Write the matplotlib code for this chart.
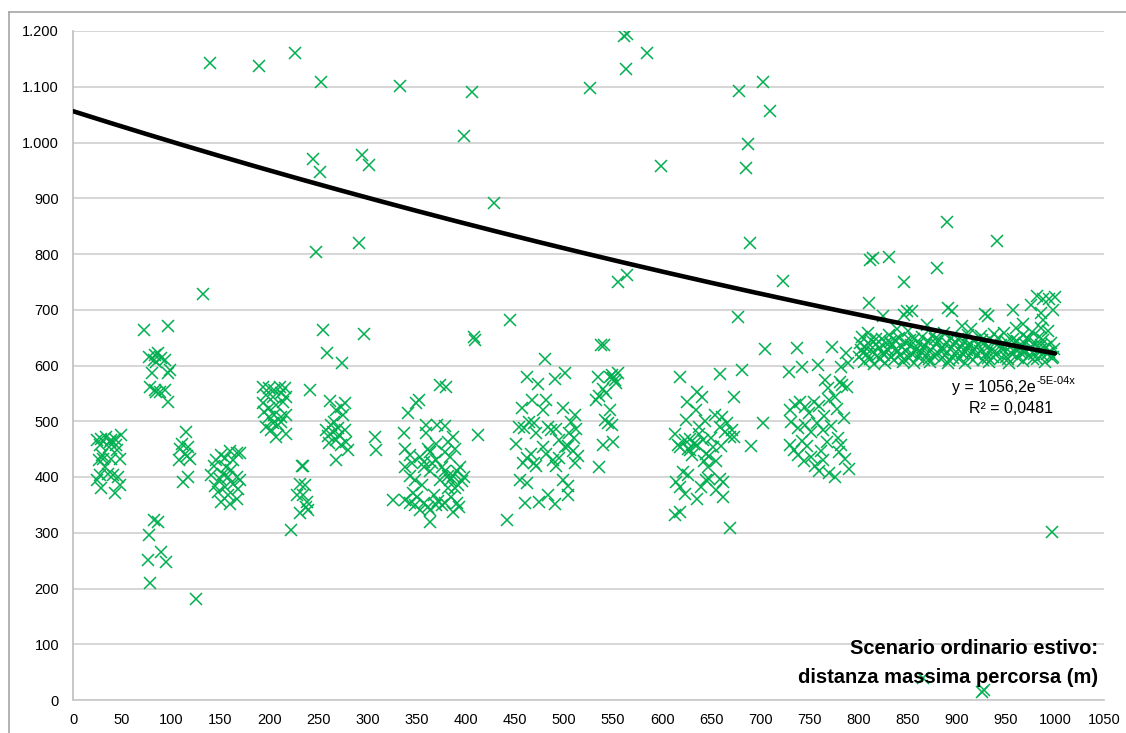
import numpy as np
import matplotlib
matplotlib.use("Agg")
import matplotlib.pyplot as plt
from matplotlib.lines import Line2D
from matplotlib.ticker import FuncFormatter, MultipleLocator

plt.rcParams['font.family'] = ['Liberation Sans', 'DejaVu Sans']

# --- distance (x) vs value (y), grouped by cluster ---
grp_a_x = [24, 29, 34, 39, 44, 49, 27, 37, 43, 31, 26, 39, 48, 27, 36, 41, 46, 24, 29, 43, 48, 33, 38, 45, 30]
grp_a_y = [466, 469, 472, 466, 457, 475, 457, 454, 469, 433, 430, 433, 432, 403, 406, 403, 400, 394, 380, 371, 385, 418, 462, 448, 440]

grp_b_x = [77, 84, 87, 90, 94, 85, 80, 99, 97, 78, 84, 89, 94, 97, 85, 82,
           82, 87, 77, 76, 78, 90, 95, 125]
grp_b_y = [616, 619, 622, 613, 610, 607, 586, 592, 586, 562, 556, 553, 556, 535, 553, 610,
           323, 320, 296, 251, 210, 266, 248, 182]

grp_c_x = [115, 111, 117, 109, 114, 119, 108, 117, 112, 116]
grp_c_y = [481, 460, 454, 451, 442, 433, 430, 400, 391, 437]

grp_d_x = [141, 145, 146, 151, 155, 160, 167, 150, 153, 156, 161, 167, 170, 148, 151,
           158, 160, 167, 155, 163, 168, 144, 158, 163, 170]
grp_d_y = [404, 383, 431, 440, 434, 446, 443, 397, 406, 418, 412, 400, 394, 373, 355,
           367, 352, 361, 382, 388, 379, 419, 400, 431, 443]

grp_e_x = [194, 200, 205, 211, 216, 197, 204, 212, 217, 194, 200, 207, 214, 195, 205,
           212, 217, 197, 202, 207, 212, 217, 204, 209, 200]
grp_e_y = [562, 559, 556, 562, 559, 547, 544, 550, 544, 532, 523, 529, 535, 517, 511,
           508, 511, 490, 484, 472, 499, 478, 496, 493, 508]

grp_f_x = [233, 234, 231, 236, 228, 234, 238, 231, 239, 237, 222, 241]
grp_f_y = [420, 419, 388, 385, 367, 367, 355, 336, 341, 346, 305, 556]

grp_g_x = [262, 258, 260, 263, 266, 270, 268, 273, 277, 275, 261, 268, 273, 278, 268,
           271, 265, 277, 280, 259, 274, 308, 309]
grp_g_y = [536, 484, 473, 493, 499, 487, 520, 526, 532, 511, 461, 466, 457, 463, 431,
           475, 481, 484, 448, 622, 604, 472, 449]

grp_i_x = [338, 343, 353, 362, 364, 379, 384, 389, 357, 370, 382,
           338, 343, 348, 357, 364, 370, 376, 379, 382, 384, 387, 391, 394, 389, 382,
           338, 343, 348, 353, 357, 362, 364, 368, 370, 376, 379, 387, 391, 393, 364, 372, 350,
           337, 341, 349, 352, 374, 380, 360, 371, 379, 360, 387, 326, 412, 409, 442,
           345, 366, 374, 392, 346, 355, 385, 398, 396]
grp_i_y = [451, 439, 436, 451, 445, 445, 436, 451, 427, 460, 462,
           418, 401, 395, 418, 410, 430, 418, 410, 401, 395, 401, 410, 418, 380, 380,
           359, 353, 350, 341, 353, 347, 341, 368, 350, 350, 353, 338, 353, 347, 320, 357, 365,
           479, 515, 533, 538, 565, 561, 493, 493, 491, 479, 472, 359, 475, 646, 323,
           425, 425, 395, 385, 372, 385, 365, 400, 392]

grp_j_x = [481, 462, 474, 491, 501,
           457, 467, 479, 482, 499, 511,
           454, 459, 464, 469, 472, 484, 487, 492, 495, 505, 507, 510, 512,
           451, 458, 462, 466, 469, 472, 479, 482, 489, 492, 495, 501, 504, 509, 514, 511,
           455, 462, 499, 504, 504, 460, 475, 484, 491]
grp_j_y = [611, 579, 567, 576, 586,
           524, 538, 520, 538, 524, 511,
           490, 488, 499, 497, 479, 490, 484, 486, 466, 479, 499, 470, 486,
           460, 425, 434, 441, 425, 420, 453, 441, 431, 420, 434, 453, 456, 446, 437, 425,
           395, 389, 395, 383, 368, 353, 356, 368, 351]

grp_k_x = [538, 541, 535, 547, 550, 552, 540, 543, 533, 536, 547, 542, 545, 549, 540, 550,
           536, 555, 553, 549]
grp_k_y = [637, 637, 580, 580, 577, 574, 557, 551, 539, 545, 520, 502, 496, 493, 457, 463,
           418, 586, 568, 583]

grp_l_x = [618, 659, 681, 673, 703, 690, 669,
           635, 641, 625, 634, 624,
           654, 661, 666, 671, 669, 673, 659,
           613, 618, 623, 628, 632, 635, 638, 642, 645, 648, 652, 655, 643, 647, 616, 628,
           621, 626, 614, 618, 623, 635, 640, 645, 648, 659, 662, 662, 655,
           613, 618, 630, 650, 660, 664, 638, 644, 626]
grp_l_y = [580, 585, 592, 544, 497, 455, 309,
           552, 543, 534, 520, 503,
           511, 508, 496, 484, 472, 472, 490,
           478, 454, 466, 469, 460, 457, 478, 466, 442, 438, 454, 428, 428, 418, 457, 448,
           409, 403, 391, 382, 370, 361, 382, 394, 397, 397, 391, 364, 376,
           332, 338, 440, 470, 455, 480, 490, 500, 450]

grp_m_x = [705, 737, 773, 787,
           729, 742, 759, 782, 789,
           766, 769, 776, 783,
           730, 735, 740, 745, 750, 755, 760, 765, 770, 778, 785,
           731, 738, 745, 752, 758, 764, 772, 779,
           730, 734, 738, 744, 752, 756, 760, 764, 770, 776, 780, 786, 790, 782, 748, 762,
           742, 768, 781, 788]
grp_m_y = [629, 631, 634, 622,
           589, 598, 601, 597, 604,
           574, 559, 544, 565,
           520, 530, 535, 525, 515, 535, 528, 510, 538, 522, 505,
           498, 488, 494, 480, 497, 485, 492, 470,
           457, 449, 440, 428, 436, 420, 410, 430, 407, 400, 445, 432, 415, 457, 455, 447,
           465, 462, 571, 562]

band_x = [800, 801, 803, 804, 806, 807, 809, 810, 812, 813, 815, 816, 818, 819,
          821, 822, 824, 825, 827, 828, 830, 831, 833, 834, 836, 837, 839,
          841, 842, 844, 845, 847, 848, 850, 851, 853, 854, 856, 857, 859,
          861, 862, 864, 865, 867, 868, 870, 871, 873, 874, 876, 877, 879,
          881, 882, 884, 885, 887, 888, 890, 891, 893, 894, 896, 897, 899,
          901, 902, 904, 905, 907, 908, 910, 911, 913, 914, 916, 917, 919,
          921, 922, 924, 925, 927, 928, 930, 931, 933, 934, 936, 937, 939,
          941, 942, 944, 945, 947, 948, 950, 951, 953, 954, 956, 957, 959,
          961, 962, 964, 965, 967, 968, 970, 971, 973, 974, 976, 977, 979,
          981, 982, 984, 985, 987, 988, 990, 991, 993, 994, 996, 997, 999,
          805, 812, 818, 826, 832, 838, 846, 852, 858, 866, 872, 878, 886, 892, 898,
          906, 912, 918, 926, 932, 938, 946, 952, 958, 966, 972, 978, 986, 992, 998]
band_y = [615, 640, 628, 652, 607, 633, 620, 658, 611, 645, 625, 603, 638, 617,
          632, 612, 648, 622, 605, 641, 628, 655, 615, 636, 610, 645, 624,
          650, 618, 633, 607, 642, 626, 661, 613, 637, 620, 648, 604, 630,
          615, 640, 625, 652, 610, 635, 620, 644, 606, 628, 655, 617, 638,
          622, 646, 612, 634, 658, 619, 640, 605, 630, 650, 614, 637, 624,
          648, 611, 633, 622, 643, 604, 628, 655, 617, 639, 625, 609, 646,
          618, 636, 626, 653, 610, 641, 621, 632, 606, 647, 628, 615, 640,
          623, 650, 612, 637, 627, 658, 616, 642, 605, 633, 620, 647, 629,
          644, 613, 631, 622, 655, 608, 638, 626, 648, 617, 634, 660, 621,
          639, 611, 652, 627, 618, 645, 606, 633, 662, 624, 640, 614, 630,
          622, 636, 648, 618, 642, 630, 612, 646, 626, 633, 612, 648, 628, 609, 642,
          620, 636, 630, 645, 614, 657, 632, 611, 640, 626, 649, 612, 637, 620, 615]

upper_x = [811, 812, 815, 831, 846, 880, 890, 941, 891, 895, 929, 932, 957, 976, 982,
           988, 994, 986, 988, 986, 849, 854, 846, 825, 839, 870, 905, 915, 960, 968,
           998, 1000, 723]
upper_y = [712, 789, 792, 794, 749, 775, 857, 824, 703, 697, 693, 688, 699, 709, 724,
           719, 719, 694, 682, 667, 697, 697, 691, 689, 665, 672, 670, 665, 668, 675,
           700, 722, 751]

sparse_x = [140, 189, 226, 253, 333, 406, 398, 527, 561, 564, 585, 563, 599, 678, 703,
            710, 687, 685, 689, 244, 252, 294, 301, 247, 291, 429, 555, 564, 677, 255,
            296, 408, 445, 132, 72, 97, 997, 926, 928, 866]
sparse_y = [1143, 1137, 1160, 1109, 1101, 1090, 1012, 1097, 1191, 1195, 1160, 1132, 957, 1092, 1109,
            1057, 997, 954, 820, 970, 947, 978, 960, 804, 819, 892, 749, 762, 687, 664,
            656, 652, 682, 728, 663, 670, 301, 15, 18, 39]

# exponential trend fitted on the series: y = a * exp(-b x)
trend_a = 1056.2
trend_b = 5.3e-4
r_squared = 0.0481

x_all = np.array(grp_a_x + grp_b_x + grp_c_x + grp_d_x + grp_e_x + grp_f_x + grp_g_x +
                 grp_i_x + grp_j_x + grp_k_x + grp_l_x + grp_m_x + band_x + upper_x + sparse_x)
y_all = np.array(grp_a_y + grp_b_y + grp_c_y + grp_d_y + grp_e_y + grp_f_y + grp_g_y +
                 grp_i_y + grp_j_y + grp_k_y + grp_l_y + grp_m_y + band_y + upper_y + sparse_y)

fig = plt.figure(figsize=(11.26, 7.33), dpi=100)
ax = fig.add_axes([73 / 1126, 33 / 733, 1031 / 1126, 669 / 733])

ax.plot(x_all, y_all, linestyle='none', marker='x', markersize=8.5,
        markeredgewidth=1.1, color='#00B050', zorder=3)

xt = np.linspace(0, x_all.max(), 300)
ax.plot(xt, trend_a * np.exp(-trend_b * xt), color='black', linewidth=3.3,
        solid_capstyle='round', zorder=4)

ax.set_xlim(0, 1050)
ax.set_ylim(0, 1200)
ax.xaxis.set_major_locator(MultipleLocator(50))
ax.yaxis.set_major_locator(MultipleLocator(100))
ax.yaxis.set_major_formatter(FuncFormatter(lambda v, p: f"{v:,.0f}".replace(',', '.')))
ax.grid(axis='y', color='#D0D0D0', linewidth=1.2, zorder=0)
ax.set_axisbelow(True)
for s in ('top', 'right'):
    ax.spines[s].set_visible(False)
ax.spines['left'].set_color('#BDBDBD')
ax.spines['bottom'].set_color('#C8C8C8')
ax.spines['left'].set_linewidth(1.2)
ax.spines['bottom'].set_linewidth(1.2)
ax.tick_params(axis='both', length=0, labelsize=10.5, colors='black')
ax.tick_params(axis='x', pad=9)
ax.tick_params(axis='y', pad=10)

# trend equation
eq = ax.text(981, 560, f"y = {trend_a:.1f}".replace('.', ',') + "e", ha='right', va='center',
             fontsize=11.5, zorder=5)
ax.annotate(f"-{trend_b:.0E}x".replace('E-0', 'E-0'), xy=(1.0, 0.62), xycoords=eq,
            ha='left', va='bottom', fontsize=8, zorder=5)
ax.text(955, 522, f"R\u00b2 = {r_squared:.4f}".replace('.', ','), ha='center', va='center',
        fontsize=11.5, zorder=5)

ax.text(1044, 93, "Scenario ordinario estivo:", ha='right', va='center',
        fontsize=14.5, fontweight='bold', zorder=5)
ax.text(1044, 41, "distanza massima percorsa (m)", ha='right', va='center',
        fontsize=14.5, fontweight='bold', zorder=5)

# chart frame
fig.add_artist(Line2D([9 / 1126, 1.0], [1 - 11.5 / 733] * 2, color='#A6A6A6', linewidth=1.2))
fig.add_artist(Line2D([9 / 1126] * 2, [0.0, 1 - 11.5 / 733], color='#A6A6A6', linewidth=1.2))

fig.savefig("out.png", dpi=100)
